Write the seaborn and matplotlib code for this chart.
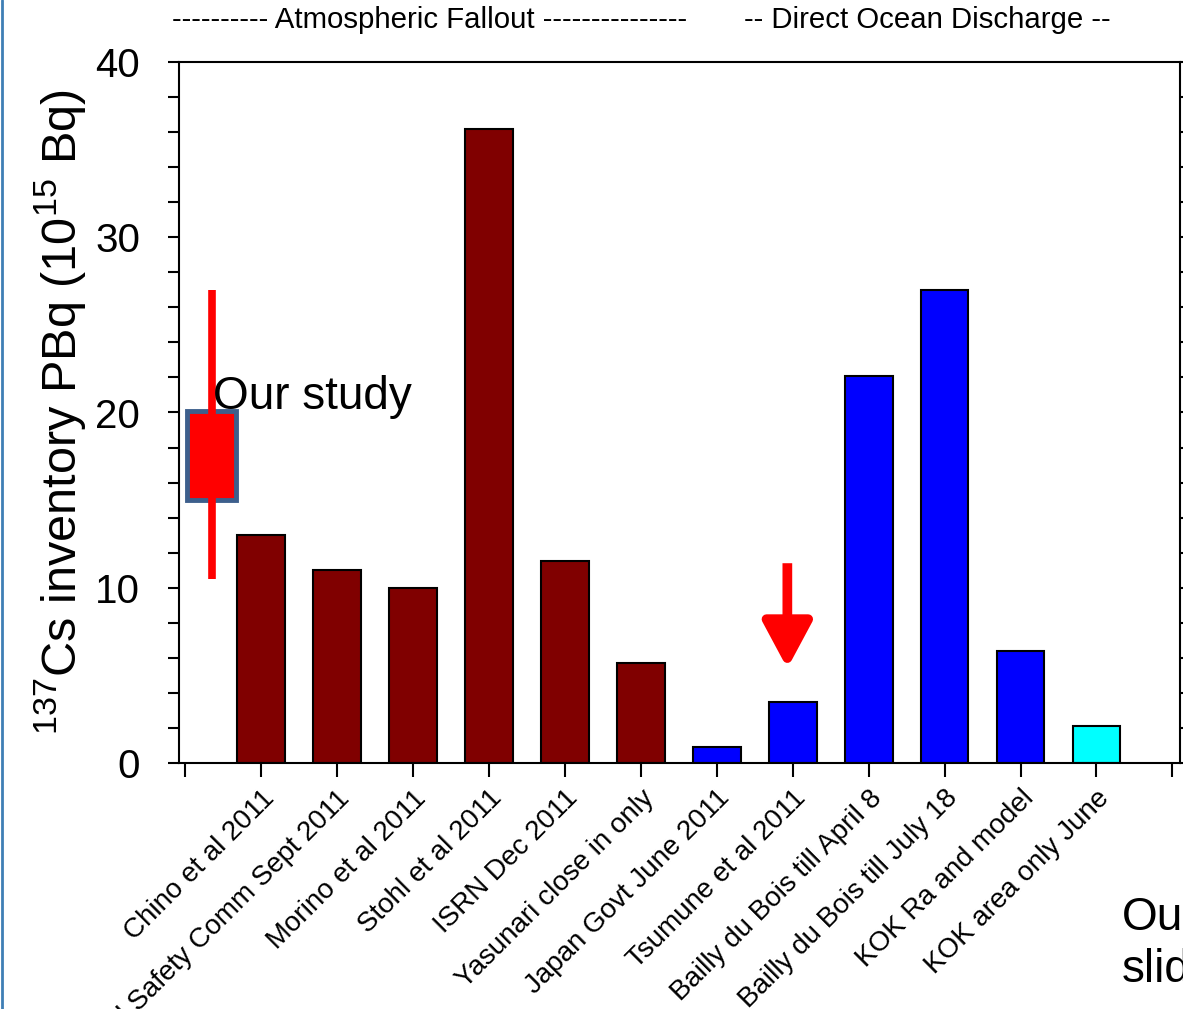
import matplotlib
matplotlib.use("Agg")
import matplotlib.pyplot as plt
from matplotlib.lines import Line2D
from matplotlib.patches import Rectangle
from matplotlib.ticker import MultipleLocator
import numpy as np
import pandas as pd
import seaborn as sns

# estimates of 137Cs released, PBq
studies = [
    "Chino et al 2011",
    "Nucl Safety Comm Sept 2011",
    "Morino et al 2011",
    "Stohl et al 2011",
    "ISRN Dec 2011",
    "Yasunari close in only",
    "Japan Govt June 2011",
    "Tsumune et al 2011",
    "Bailly du Bois till April 8",
    "Bailly du Bois till July 18",
    "KOK Ra and model",
    "KOK area only June",
]
inventory = [13.0, 11.0, 10.0, 36.2, 11.5, 5.7, 0.9, 3.5, 22.1, 27.0, 6.4, 2.1]
source = [
    "fallout", "fallout", "fallout", "fallout", "fallout", "fallout",
    "ocean", "ocean", "ocean", "ocean", "ocean",
    "ocean_area",
]
palette = {"fallout": "#800000", "ocean": "#0000FF", "ocean_area": "#00FFFF"}

# our study: box = likely range, line = full range
our_box = (15.0, 20.1)
our_range = (10.5, 27.0)
# arrow pointing at Tsumune et al
arrow_from, arrow_to = 11.4, 5.4

sns.set_style("ticks")
plt.rcParams["font.family"] = ["Liberation Sans", "DejaVu Sans"]
plt.rcParams["mathtext.default"] = "regular"
for key in ["text.color", "axes.labelcolor", "xtick.color", "ytick.color"]:
    plt.rcParams[key] = "black"

df = pd.DataFrame({
    "pos": np.arange(1, len(studies) + 1),
    "study": studies,
    "value": inventory,
    "source": source,
})

W, H = 1183, 1009
fig = plt.figure(figsize=(W / 100, H / 100), dpi=100)
ax = fig.add_axes([179 / W, 1 - 763 / H, 1001 / W, 701 / H])

sns.barplot(data=df, x="pos", y="value", hue="source", palette=palette,
            saturation=1, native_scale=True, dodge=False, width=0.63,
            edgecolor="black", linewidth=1.5, legend=False, ax=ax)

ax.set_xlim(-0.08, 13.1)
ax.set_ylim(0, 40)
ax.set_xticks(range(len(studies) + 2))
ax.set_xticklabels([""] + studies + [""], rotation=45, ha="right",
                   rotation_mode="anchor", fontsize=20)
ax.set_xlabel("")
ax.yaxis.set_major_locator(MultipleLocator(10))
ax.yaxis.set_minor_locator(MultipleLocator(2))
ax.tick_params(axis="x", direction="out", length=10, width=1.5, pad=6)
ax.tick_params(axis="y", which="both", direction="out", length=8, width=1.5,
               right=True, labelsize=29, pad=20)
for sp in ax.spines.values():
    sp.set_visible(True)
    sp.set_linewidth(1.5)
    sp.set_color("black")

ax.set_ylabel(r"$^{137}$Cs inventory PBq (10$^{15}$ Bq)", fontsize=35)
ax.yaxis.set_label_coords(-0.091, 0.5)

# our study overlay
ax.add_patch(Rectangle((0.03, our_box[0]), 0.64, our_box[1] - our_box[0],
                       facecolor="red", edgecolor="#3D5F8C", lw=3.5, zorder=3))
ax.plot([0.36, 0.36], our_range, color="red", lw=5.5, solid_capstyle="butt",
        zorder=4)
ax.text(0.37, 20.2, "Our study", fontsize=33, va="baseline", ha="left",
        zorder=5)

ax.annotate("", xy=(7.93, arrow_to), xytext=(7.93, arrow_from),
            arrowprops=dict(arrowstyle="-|>,head_length=1.4,head_width=0.75",
                            mutation_scale=20, color="red", lw=7,
                            shrinkA=0, shrinkB=0, joinstyle="round",
                            capstyle="butt"))

fig.text(430 / W, 1 - 20 / H,
         "---------- Atmospheric Fallout ---------------",
         ha="center", va="center", fontsize=21.2)
fig.text(927 / W, 1 - 20 / H, "-- Direct Ocean Discharge --",
         ha="center", va="center", fontsize=21.2)

fig.text(1122 / W, 1 - 930 / H, "Our", fontsize=33, va="baseline")
fig.text(1122 / W, 1 - 982 / H, "slide", fontsize=33, va="baseline")

fig.add_artist(Line2D([0.0015, 0.0015], [0, 1], color="#3F7FB5", lw=2))

fig.savefig("out.png", dpi=100)
